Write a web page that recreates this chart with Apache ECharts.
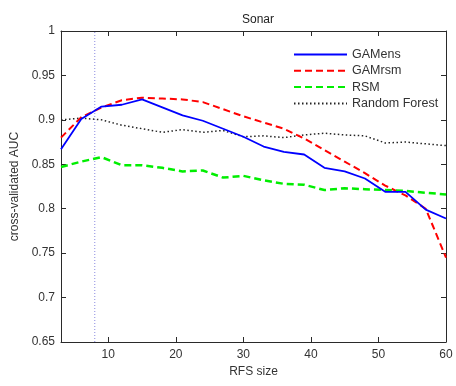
<!DOCTYPE html>
<html><head><meta charset="utf-8">
<script src="https://cdn.jsdelivr.net/npm/echarts@6/dist/echarts.min.js"></script>
<style>html,body{margin:0;padding:0;background:#fff}#c{width:456px;height:386px}</style>
</head><body><div id="c"></div>
<script>
const rfsSize = [3,6,9,12,15,18,21,24,27,30,33,36,39,42,45,48,51,54,57,60];
const gamens = [0.867,0.901,0.915,0.917,0.923,0.914,0.905,0.899,0.890,0.881,0.870,0.864,0.861,0.846,0.842,0.834,0.819,0.819,0.799,0.789];
const gamrsm = [0.880,0.903,0.914,0.922,0.925,0.924,0.923,0.920,0.912,0.904,0.897,0.890,0.879,0.866,0.853,0.840,0.826,0.815,0.800,0.745];
const rsm = [0.847,0.853,0.858,0.849,0.849,0.846,0.842,0.843,0.835,0.837,0.832,0.828,0.827,0.821,0.823,0.822,0.821,0.820,0.818,0.816];
const randomForest = [0.900,0.902,0.900,0.894,0.890,0.886,0.889,0.886,0.888,0.881,0.882,0.880,0.883,0.885,0.883,0.882,0.874,0.875,0.873,0.871];
const markerX = 8;
const xTicks = [10,20,30,40,50,60];
const yTicks = [0.65,0.7,0.75,0.8,0.85,0.9,0.95,1];
const seriesNames = ['GAMens','GAMrsm','RSM','Random Forest'];

const pair = (xs, ys) => xs.map((x,i)=>[x, ys[i]]);
const font = 'Liberation Sans, Arial, sans-serif';
const axisColor = '#2a2a2a';
const txt = '#333';

function xAx(pos, labels){
  return {type:'value', position:pos, min:3, max:60,
    axisLine:{show:true, onZero:false, lineStyle:{color:axisColor,width:1}},
    axisTick:{show:true, inside:true, length:5, customValues:xTicks, lineStyle:{color:axisColor}},
    axisLabel:{show:labels, customValues:xTicks, color:txt, fontSize:12, fontFamily:font, margin:7},
    splitLine:{show:false},
    name: labels ? 'RFS size' : '', nameLocation:'middle', nameGap:24,
    nameTextStyle:{color:txt, fontSize:12, fontFamily:font}};
}
function yAx(pos, labels){
  return {type:'value', position:pos, min:0.65, max:1,
    axisLine:{show:true, onZero:false, lineStyle:{color:axisColor,width:1}},
    axisTick:{show:true, inside:true, length:5, customValues:yTicks, lineStyle:{color:axisColor}},
    axisLabel:{show:labels, customValues:yTicks, color:txt, fontSize:12, fontFamily:font, margin:6},
    splitLine:{show:false},
    name: labels ? 'cross-validated AUC' : '', nameLocation:'middle', nameGap:38,
    nameTextStyle:{color:txt, fontSize:12, fontFamily:font}};
}

const chart = echarts.init(document.getElementById('c'), null, {renderer:'canvas'});
chart.setOption({
  animation:false,
  backgroundColor:'#fff',
  title:{text:'Sonar', left:253, top:9, textAlign:'center',
    textStyle:{fontSize:12, fontWeight:'normal', color:'#222', fontFamily:font}},
  grid:{left:61, right:10, top:31, bottom:44, containLabel:false},
  xAxis:[xAx('bottom', true), xAx('top', false)],
  yAxis:[yAx('left', true), yAx('right', false)],
  legend:{orient:'vertical', left:288, top:43, itemWidth:53, itemHeight:14, itemGap:3.3,
    data:seriesNames, itemStyle:{opacity:0},
    textStyle:{fontSize:12.5, color:'#333', fontFamily:font}},
  series:[
    {name:'vline', type:'line', data:[[markerX,0.65],[markerX,1]], symbol:'none',
      lineStyle:{color:'#8a8ae0', width:1, type:[1,2]}, silent:true, z:1},
    {name:seriesNames[0], type:'line', data:pair(rfsSize,gamens), symbol:'none', showSymbol:false,
      lineStyle:{color:'#0000ff', width:1.8}, itemStyle:{color:'#0000ff'}, z:4},
    {name:seriesNames[1], type:'line', data:pair(rfsSize,gamrsm), symbol:'none', showSymbol:false,
      lineStyle:{color:'#ff0000', width:2, type:[7,4]}, itemStyle:{color:'#ff0000'}, z:3},
    {name:seriesNames[2], type:'line', data:pair(rfsSize,rsm), symbol:'none', showSymbol:false,
      lineStyle:{color:'#00ee00', width:2.5, type:[7,4]}, itemStyle:{color:'#00ee00'}, z:3},
    {name:seriesNames[3], type:'line', data:pair(rfsSize,randomForest), symbol:'none', showSymbol:false,
      lineStyle:{color:'#222', width:1.5, type:[1.5,2.5]}, itemStyle:{color:'#222'}, z:2}
  ]
});
</script></body></html>
